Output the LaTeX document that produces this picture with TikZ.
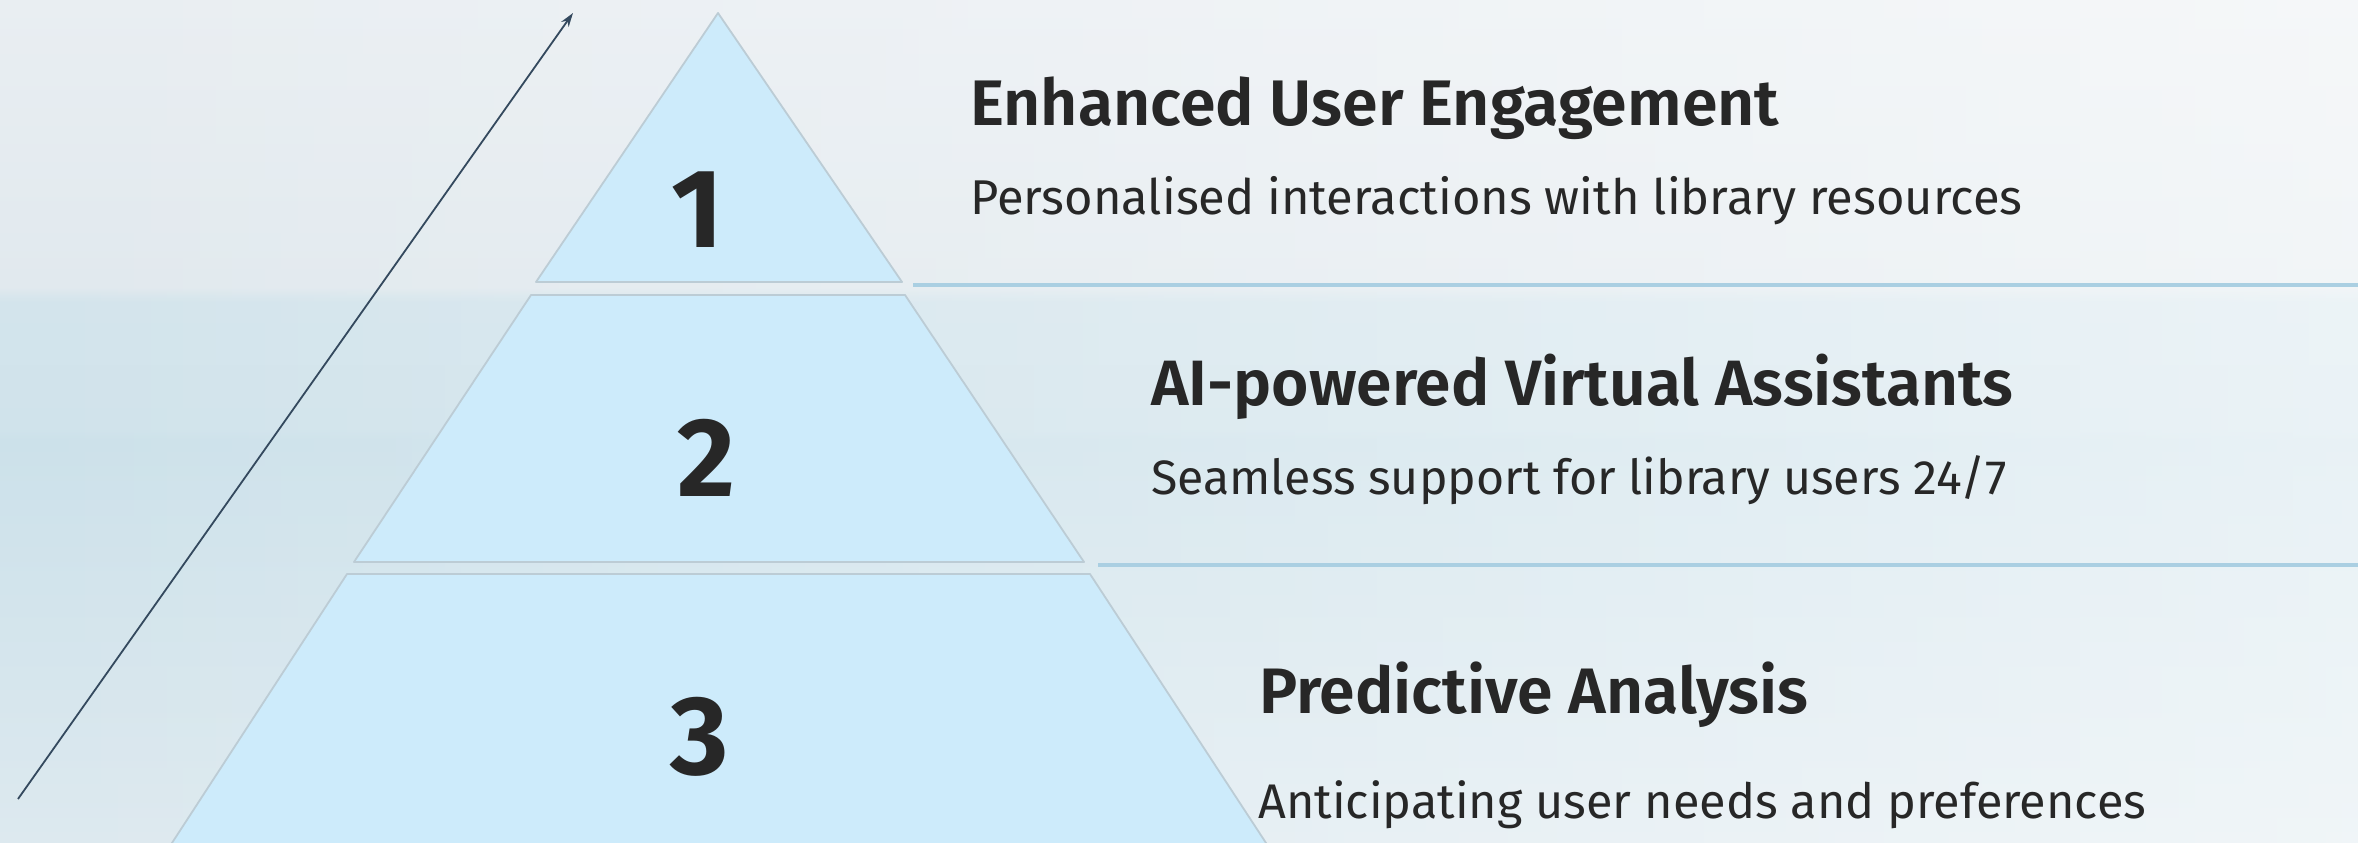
\documentclass[tikz,border=0pt]{standalone}
\usepackage{fontspec}
\setmainfont{Fira Sans}
\newfontfamily\titlefont{Fira Sans SemiBold}
\usetikzlibrary{arrows.meta,fadings}
\definecolor{tierfill}{HTML}{CDEBFB}
\definecolor{tierline}{HTML}{BCCCD5}
\definecolor{sepline}{HTML}{AACFE2}
\definecolor{arrowc}{HTML}{34495E}
\definecolor{txt}{HTML}{272727}
\definecolor{bgtop}{HTML}{E9EEF2}
\definecolor{bgtopb}{HTML}{E1E9EE}
\definecolor{bandA}{HTML}{D3E4EC}
\definecolor{bandA2}{HTML}{D0E3EB}
\definecolor{bandB}{HTML}{CCE1EA}
\definecolor{bgbot}{HTML}{DDE9EF}
\pgfdeclareverticalshading{bgshade}{100bp}{color(0bp)=(bgbot); color(25bp)=(bgbot); color(48.9bp)=(bandB); color(49.6bp)=(bandA2); color(57.1bp)=(bandA); color(58bp)=(bgtopb); color(75bp)=(bgtop); color(100bp)=(bgtop)}
\tikzfading[name=fadeleft, left color=transparent!100, right color=transparent!35]
\begin{document}
\begin{tikzpicture}[x=1pt,y=-1pt,
  tier/.style={fill=tierfill, draw=tierline, line width=1.8pt, line join=round},
  sep/.style={draw=sepline, line width=4pt},
  title/.style={anchor=base west, inner sep=0pt, text=txt, font=\titlefont},
  sub/.style={anchor=base west, inner sep=0pt, text=txt},
  digit/.style={inner sep=0pt, text=txt, font=\fontsize{112}{112}\selectfont\bfseries}]
\useasboundingbox (0,0) rectangle (2358,843);
% background
\fill[shading=bgshade] (0,0) rectangle (2358,843);
\begin{scope}
\clip (0,0) rectangle (2358,843);
\fill[white, path fading=fadeleft] (0,-20) rectangle (2700,863);
\end{scope}
% tiers
\draw[tier] (718,13) -- (902,282) -- (536,282) -- cycle;
\draw[tier] (531,295) -- (905,295) -- (1084,562) -- (354,562) -- cycle;
\draw[tier] (347,574) -- (1090,574) -- (1268,846) -- (170,846) -- cycle;
% digits
\node[digit] (d1) at (697,210) {1};
\node[digit] (d2) at (706,458) {2};
\node[digit] (d3) at (700,737) {3};
% separators
\coordinate (s1a) at (913,285); \coordinate (s1b) at (2358,285);
\coordinate (s2a) at (1098,565); \coordinate (s2b) at (2358,565);
\draw[sep] (s1a) -- (s1b);
\draw[sep] (s2a) -- (s2b);
% arrow
\coordinate (a0) at (18,799); \coordinate (a1) at (573,13);
\draw[arrowc, line width=1.8pt, -{Stealth[length=14pt,width=9pt]}] (a0) -- (a1);
% texts
\node[title] (t1) at (970,125) {\resizebox{809pt}{!}{Enhanced User Engagement}};
\node[sub] (u1) at (970,214) {\resizebox{1052pt}{!}{Personalised interactions with library resources}};
\node[title] (t2) at (1151,405) {\resizebox{862pt}{!}{AI-powered Virtual Assistants}};
\node[sub] (u2) at (1151,494) {\resizebox{856pt}{!}{Seamless support for library users 24/7}};
\node[title] (t3) at (1259,713) {\resizebox{549pt}{!}{Predictive Analysis}};
\node[sub] (u3) at (1258,818) {\resizebox{888pt}{!}{Anticipating user needs and preferences}};
\end{tikzpicture}
\end{document}
